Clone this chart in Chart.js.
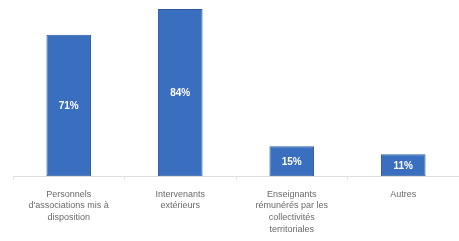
<!DOCTYPE html>
<html>
<head>
<meta charset="utf-8">
<script src="https://cdn.jsdelivr.net/npm/chart.js@4"></script>
<style>
  html, body { margin: 0; padding: 0; background: #fff; }
  #wrap { width: 459px; height: 241px; position: relative; }
</style>
</head>
<body>
<div id="wrap"><canvas id="chart"></canvas></div>
<script>
// catégories (libellés sur plusieurs lignes)
const categories = [
    ['Personnels', "d'associations mis à", 'disposition'],
    ['Intervenants', 'extérieurs'],
    ['Enseignants', 'rémunérés par les', 'collectivités', 'territoriales'],
    ['Autres']
];
const values = [71, 84, 15, 11];
const valueLabels = ['71%', '84%', '15%', '11%'];

// étiquettes blanches au milieu des barres
const barLabels = {
    id: 'barLabels',
    afterDatasetsDraw(chart) {
        const ctx = chart.ctx;
        const meta = chart.getDatasetMeta(0);
        ctx.save();
        ctx.fillStyle = '#ffffff';
        ctx.font = 'bold 10px "Liberation Sans", Arial, sans-serif';
        ctx.textAlign = 'center';
        ctx.textBaseline = 'middle';
        meta.data.forEach(function(bar, i) {
            const mid = (bar.y + bar.base) / 2;
            ctx.fillText(valueLabels[i], bar.x, mid + 1);
        });
        ctx.restore();
    }
};

document.addEventListener('DOMContentLoaded', function() {
    const ctx = document.getElementById('chart').getContext('2d');
    new Chart(ctx, {
        type: 'bar',
        data: {
            labels: categories,
            datasets: [{
                data: values,
                backgroundColor: '#3a6fc0',
                borderColor: '#2c5a9c',
                borderWidth: 1,
                borderSkipped: false,
                categoryPercentage: 1,
                barPercentage: 0.4
            }]
        },
        options: {
            responsive: true,
            maintainAspectRatio: false,
            animation: false,
            layout: { padding: { left: 13, right: 0, top: 1, bottom: -2 } },
            scales: {
                x: {
                    grid: {
                        offset: true,
                        drawOnChartArea: false,
                        tickLength: 4,
                        color: '#e6e6e6'
                    },
                    border: { color: '#dedede' },
                    ticks: {
                        color: '#6a6a6a',
                        padding: 8,
                        maxRotation: 0,
                        autoSkip: false,
                        font: { family: '"Liberation Sans", Arial, sans-serif', size: 9, lineHeight: 1.3 }
                    }
                },
                y: {
                    display: false,
                    min: 0,
                    max: 88
                }
            },
            plugins: {
                legend: { display: false },
                tooltip: { enabled: false }
            }
        },
        plugins: [barLabels]
    });
});
</script>
</body>
</html>
